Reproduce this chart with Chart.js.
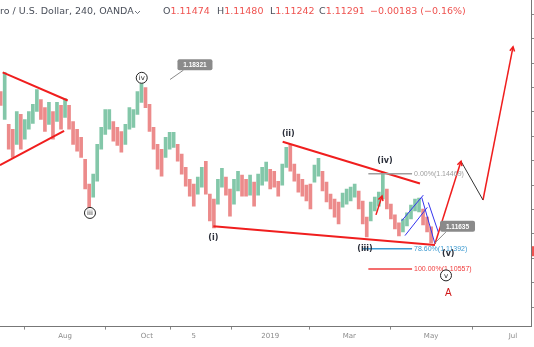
<!DOCTYPE html>
<html>
<head>
<meta charset="utf-8">
<script src="https://cdn.jsdelivr.net/npm/chart.js@4.4.1/dist/chart.umd.min.js"></script>
<style>
  html, body { margin: 0; padding: 0; background: #fff; }
  #wrap { width: 534px; height: 347px; }
</style>
</head>
<body>
<div id="wrap"><canvas id="chart" width="534" height="347"></canvas></div>
<script>
/* ── Data (x = days since 2018-08-01, one column per 3 days of 4h candles) ── */
const candleDays = [
  -48, -45, -42, -39, -36, -33, -30, -27, -24, -21,
  -18, -15, -12, -9, -6, -3, 0, 3, 6, 9,
  12, 15, 18, 21, 24, 27, 30, 33, 36, 39,
  42, 45, 48, 51, 54, 57, 60, 63, 66, 69,
  72, 75, 78, 81, 84, 87, 90, 93, 96, 99,
  102, 105, 108, 111, 114, 117, 120, 123, 126, 129,
  132, 135, 138, 141, 144, 147, 150, 153, 156, 159,
  162, 165, 168, 171, 174, 177, 180, 183, 186, 189,
  192, 195, 198, 201, 204, 207, 210, 213, 216, 219,
  222, 225, 228, 231, 234, 237, 240, 243, 246, 249,
  252, 255, 258, 261, 264, 267, 270, 273
];
const candleHigh = [
  1.1784, 1.1861, 1.1649, 1.1629, 1.1702, 1.1690, 1.1669, 1.1702, 1.1731, 1.1792,
  1.1751, 1.1718, 1.1739, 1.1702, 1.1739, 1.1727, 1.1755, 1.1727, 1.1661, 1.1629,
  1.1596, 1.1506, 1.1404, 1.1445, 1.1567, 1.1637, 1.1710, 1.1710, 1.1661, 1.1637,
  1.1620, 1.1649, 1.1718, 1.1710, 1.1784, 1.1816, 1.1800, 1.1731, 1.1637, 1.1567,
  1.1547, 1.1596, 1.1616, 1.1616, 1.1567, 1.1527, 1.1473, 1.1424, 1.1404, 1.1433,
  1.1473, 1.1498, 1.1363, 1.1343, 1.1424, 1.1469, 1.1433, 1.1384, 1.1424, 1.1457,
  1.1441, 1.1424, 1.1441, 1.1412, 1.1445, 1.1473, 1.1494, 1.1465, 1.1457, 1.1416,
  1.1486, 1.1555, 1.1567, 1.1486, 1.1445, 1.1424, 1.1400, 1.1404, 1.1482, 1.1510,
  1.1457, 1.1412, 1.1363, 1.1343, 1.1331, 1.1367, 1.1384, 1.1392, 1.1404, 1.1376,
  1.1335, 1.1269, 1.1331, 1.1351, 1.1371, 1.1453, 1.1384, 1.1322, 1.1278, 1.1245,
  1.1261, 1.1286, 1.1318, 1.1343, 1.1347, 1.1302, 1.1269, 1.1229
];
const candleLow = [
  1.1727, 1.1669, 1.1547, 1.1514, 1.1567, 1.1547, 1.1588, 1.1629, 1.1653, 1.1702,
  1.1669, 1.1620, 1.1649, 1.1588, 1.1661, 1.1629, 1.1678, 1.1629, 1.1567, 1.1539,
  1.1514, 1.1384, 1.1302, 1.1351, 1.1416, 1.1547, 1.1608, 1.1629, 1.1580, 1.1563,
  1.1535, 1.1567, 1.1629, 1.1637, 1.1690, 1.1739, 1.1718, 1.1620, 1.1547, 1.1465,
  1.1437, 1.1514, 1.1547, 1.1555, 1.1498, 1.1445, 1.1396, 1.1355, 1.1314, 1.1363,
  1.1392, 1.1363, 1.1253, 1.1225, 1.1322, 1.1392, 1.1359, 1.1273, 1.1322, 1.1376,
  1.1355, 1.1355, 1.1359, 1.1314, 1.1359, 1.1400, 1.1416, 1.1384, 1.1392, 1.1355,
  1.1400, 1.1473, 1.1457, 1.1416, 1.1371, 1.1355, 1.1335, 1.1302, 1.1412, 1.1437,
  1.1376, 1.1331, 1.1302, 1.1269, 1.1241, 1.1310, 1.1322, 1.1335, 1.1351, 1.1302,
  1.1241, 1.1188, 1.1253, 1.1294, 1.1314, 1.1343, 1.1302, 1.1261, 1.1220, 1.1192,
  1.1208, 1.1233, 1.1261, 1.1294, 1.1290, 1.1237, 1.1208, 1.1163
];

const xTickDays   = [0, 61, 96, 153, 212, 273, 334];
const xTickLabels = ['Aug', 'Oct', '5', '2019', 'Mar', 'May', 'Jul'];
const yTickValues = [1.09, 1.10, 1.11, 1.12, 1.13, 1.14, 1.15, 1.16, 1.17, 1.18, 1.19, 1.20, 1.21];

// drawn trendlines, [day, price] pairs
const triangleUpper = [[-46.5, 1.1862], [2.0, 1.1747]];
const triangleLower = [[-48.5, 1.1482], [-0.7, 1.1622]];
const wedgeUpper    = [[162.3, 1.1578], [264.7, 1.1407]];
const wedgeLower    = [[110.6, 1.1231], [275.9, 1.1155]];
const projUp1       = [[275.9, 1.1160], [295.3, 1.1498]];
const projDown      = [[295.3, 1.1498], [311.7, 1.1339]];
const projUp2       = [[311.7, 1.1339], [334.1, 1.1967]];
const smallArrow    = [[231.9, 1.1278], [236.4, 1.1355]];
const channelLines  = [
  [[251.1, 1.1254], [267.2, 1.1359]],
  [[253.5, 1.1193], [270.2, 1.1309]],
  [[266.0, 1.1350], [275.9, 1.1159]],
  [[270.9, 1.1329], [278.4, 1.1207]]
];

// fibonacci levels
const fibPrices = [1.14469, 1.11392, 1.10557];
const fibText   = ['0.00%(1.14469)', '78.60%(1.11392)', '100.00%(1.10557)'];
const fibStart  = [226.2, 222.0, 226.2];
const fibEnd    = 258.8;

// wave labels
const circleText  = ['iv', 'iii', 'v'];
const circleDay   = [57.2, 18.6, 284.1];
const circlePrice = [1.1840, 1.1286, 1.1030];
const parenText   = ['(i)', '(ii)', '(iii)', '(iv)', '(v)'];
const parenDay    = [110.6, 166.5, 223.7, 238.6, 285.8];
const parenPrice  = [1.1184, 1.1611, 1.1139, 1.1499, 1.1118];
const letterA     = { text: 'A', day: 285.8, price: 1.0955 };

// price callouts: label, box centre, pointer target
const calloutText   = ['1.18321', '1.11635'];
const calloutBox    = [[96.9, 1.1894], [292.7, 1.1231]];
const calloutTarget = [[78.3, 1.1833], [275.9, 1.1163]];

const lastClose = 1.11291;
const headerTitle = 'ro / U.S. Dollar, 240, OANDA';
const headerOHLC = [['O', '1.11474'], ['H', '1.11480'], ['L', '1.11242'], ['C', '1.11291']];
const headerChange = '\u22120.00183 (\u22120.16%)';

/* ── Colours ── */
const RED = '#f01e1e';
const UP_COL = 'rgba(90,180,140,0.75)';
const DN_COL = 'rgba(230,100,100,0.75)';

const candleColors = candleHigh.map((h, i) => {
  if (i === 0) return DN_COL;
  const mid = (h + candleLow[i]) / 2;
  const prev = (candleHigh[i - 1] + candleLow[i - 1]) / 2;
  return mid >= prev ? UP_COL : DN_COL;
});

function seg(points, color, width) {
  return {
    type: 'line',
    data: points.map(p => ({ x: p[0], y: p[1] })),
    borderColor: color,
    borderWidth: width,
    pointRadius: 0,
    fill: false,
    tension: 0,
    order: 1,
  };
}

/* ── Plugins ── */
function arrowHead(ctx, x1, y1, x2, y2, color) {
  const a = Math.atan2(y2 - y1, x2 - x1);
  const len = 5;
  ctx.save();
  ctx.strokeStyle = color;
  ctx.lineWidth = 1.5;
  ctx.beginPath();
  ctx.moveTo(x2 - len * Math.cos(a - 0.5), y2 - len * Math.sin(a - 0.5));
  ctx.lineTo(x2, y2);
  ctx.lineTo(x2 - len * Math.cos(a + 0.5), y2 - len * Math.sin(a + 0.5));
  ctx.stroke();
  ctx.restore();
}

const annotationPlugin = {
  id: 'annotations',
  afterDatasetsDraw(chart) {
    const { ctx, scales: { x, y } } = chart;
    const px = d => x.getPixelForValue(d);
    const py = p => y.getPixelForValue(p);

    // arrow heads on the projection
    [projUp1, projUp2, smallArrow].forEach(s => {
      arrowHead(ctx, px(s[0][0]), py(s[0][1]), px(s[1][0]), py(s[1][1]), RED);
    });

    // fib levels
    const fibCols = ['#9e9e9e', '#3d9ad1', '#f03c3c'];
    ctx.save();
    ctx.font = '7px "Liberation Sans"';
    ctx.textBaseline = 'middle';
    fibPrices.forEach((p, i) => {
      ctx.strokeStyle = fibCols[i];
      ctx.lineWidth = 1.5;
      ctx.beginPath();
      ctx.moveTo(px(fibStart[i]), py(p));
      ctx.lineTo(px(fibEnd), py(p));
      ctx.stroke();
      ctx.fillStyle = fibCols[i];
      ctx.fillText(fibText[i], px(fibEnd) + 2, py(p));
    });
    ctx.restore();

    // circled wave labels
    ctx.save();
    ctx.textAlign = 'center';
    ctx.textBaseline = 'middle';
    circleText.forEach((t, i) => {
      const cx = px(circleDay[i]), cy = py(circlePrice[i]);
      ctx.beginPath();
      ctx.arc(cx, cy, 5.5, 0, Math.PI * 2);
      ctx.fillStyle = '#fff';
      ctx.fill();
      ctx.strokeStyle = '#222';
      ctx.lineWidth = 1;
      ctx.stroke();
      ctx.fillStyle = '#222';
      ctx.font = '7px "DejaVu Sans"';
      ctx.fillText(t, cx, cy + 0.5);
    });

    // (i)..(v)
    ctx.font = 'bold 8px "DejaVu Sans"';
    ctx.fillStyle = '#2a2e39';
    parenText.forEach((t, i) => ctx.fillText(t, px(parenDay[i]), py(parenPrice[i])));

    ctx.font = '10px "Liberation Sans"';
    ctx.fillStyle = '#d01818';
    ctx.fillText(letterA.text, px(letterA.day), py(letterA.price));

    // price callouts
    ctx.font = 'bold 6.5px "Liberation Sans"';
    calloutText.forEach((t, i) => {
      const bx = px(calloutBox[i][0]), by = py(calloutBox[i][1]);
      const tx = px(calloutTarget[i][0]), ty = py(calloutTarget[i][1]);
      const w = 35, h = 11;
      ctx.strokeStyle = '#8a8a8a';
      ctx.lineWidth = 1;
      ctx.beginPath();
      ctx.moveTo(bx - w / 2 + 6, by + h / 2);
      ctx.lineTo(tx, ty);
      ctx.stroke();
      ctx.fillStyle = '#8a8a8a';
      ctx.beginPath();
      ctx.roundRect(bx - w / 2, by - h / 2, w, h, 2);
      ctx.fill();
      ctx.fillStyle = '#fff';
      ctx.fillText(t, bx, by + 0.5);
    });
    ctx.restore();
  },
  afterDraw(chart) {
    const { ctx, chartArea, scales: { y } } = chart;
    ctx.save();
    // last price marker on the cut-off price scale
    ctx.fillStyle = '#ef5350';
    ctx.fillRect(chartArea.right + 1, y.getPixelForValue(lastClose) - 5, 4, 10);

    // header legend
    ctx.textBaseline = 'middle';
    ctx.font = '9.5px "DejaVu Sans"';
    ctx.fillStyle = '#4a4f5a';
    ctx.fillText(headerTitle, 0, 12);
    ctx.strokeStyle = '#4a4f5a';
    ctx.lineWidth = 0.8;
    ctx.beginPath();
    ctx.moveTo(135, 11); ctx.lineTo(137.5, 13.5); ctx.lineTo(140, 11);
    ctx.stroke();
    const xs = [163, 217, 270, 319];
    headerOHLC.forEach((o, i) => {
      ctx.fillStyle = '#4a4f5a';
      ctx.fillText(o[0], xs[i], 12);
      const w = ctx.measureText(o[0]).width;
      ctx.fillStyle = '#ef5350';
      ctx.fillText(o[1], xs[i] + w, 12);
    });
    ctx.fillStyle = '#ef5350';
    ctx.fillText(headerChange, 370, 12);
    ctx.restore();
  }
};

/* ── Chart ── */
const ctx = document.getElementById('chart').getContext('2d');
const chart = new Chart(ctx, {
  type: 'bar',
  data: {
    datasets: [
      {
        type: 'bar',
        data: candleDays.map((d, i) => ({ x: d, y: [candleLow[i], candleHigh[i]] })),
        backgroundColor: candleColors,
        barThickness: 3,
        order: 2,
      },
      seg(triangleUpper, RED, 2),
      seg(triangleLower, RED, 2),
      seg(wedgeUpper, RED, 2),
      seg(wedgeLower, RED, 2),
      seg(projUp1, RED, 1.5),
      seg(projDown, '#333', 1),
      seg(projUp2, RED, 1.5),
      seg(smallArrow, RED, 1.5),
      ...channelLines.map(l => seg(l, '#3333ee', 1)),
    ],
  },
  options: {
    responsive: false,
    devicePixelRatio: 1,
    animation: false,
    layout: { padding: { left: 0, right: 0, top: 0, bottom: 5 } },
    plugins: { legend: { display: false }, tooltip: { enabled: false } },
    scales: {
      x: {
        type: 'linear',
        min: -48.5,
        max: 347.5,
        offset: false,
        afterBuildTicks: axis => { axis.ticks = xTickDays.map(v => ({ value: v })); },
        ticks: {
          autoSkip: false,
          maxRotation: 0,
          padding: 2,
          color: '#8a8a8a',
          font: { size: 7, family: '"DejaVu Sans"' },
          callback: (v, i) => xTickLabels[i],
        },
        grid: { drawOnChartArea: false, drawTicks: true, tickLength: 3, color: '#888' },
        border: { color: '#777' },
      },
      y: {
        type: 'linear',
        position: 'right',
        min: 1.0820,
        max: 1.2159,
        afterBuildTicks: axis => { axis.ticks = yTickValues.map(v => ({ value: v })); },
        ticks: { display: false },
        grid: { drawOnChartArea: false, drawTicks: true, tickLength: 3, color: '#888' },
        border: { color: '#777' },
      },
    },
  },
  plugins: [annotationPlugin],
});
</script>
</body>
</html>
